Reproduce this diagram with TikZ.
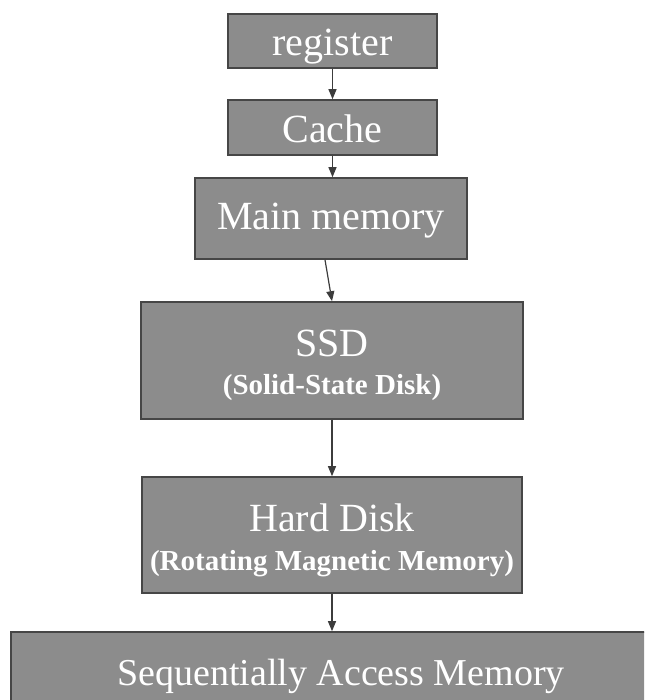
\documentclass[tikz,border=0pt]{standalone}
\usepackage{fontspec}
\setmainfont{Liberation Serif}
\usetikzlibrary{arrows.meta}
\definecolor{boxfill}{RGB}{140,140,140}
\definecolor{boxline}{RGB}{70,70,70}
\definecolor{arrowc}{RGB}{60,60,60}
\tikzset{
  membox/.style={draw=boxline, fill=boxfill, line width=1.6pt, inner sep=0pt},
  bigtxt/.style={font=\fontsize{40}{44}\selectfont, text=white, anchor=base, inner sep=0pt},
  subtxt/.style={font=\fontsize{29}{32}\selectfont\bfseries, text=white, anchor=base, inner sep=0pt},
  link/.style={draw=arrowc, line width=1.2pt, -{Triangle[length=10pt,width=8pt]}}
}
\begin{document}
\begin{tikzpicture}[x=1pt,y=1pt]
\useasboundingbox (0,0) rectangle (644,700);
\begin{scope}
\clip (0,0) rectangle (644,700);
% boxes
\node[membox, minimum width=209pt, minimum height=54pt] (reg) at (332.5,659) {};
\node[membox, minimum width=209pt, minimum height=55pt] (cache) at (332.5,572.5) {};
\node[membox, minimum width=272pt, minimum height=81pt] (main) at (331,481.5) {};
\node[membox, minimum width=382pt, minimum height=117pt] (ssd) at (332,339.5) {};
\node[membox, minimum width=380pt, minimum height=116pt] (hd) at (332,165) {};
\node[membox, minimum width=649pt, minimum height=88pt] (seq) at (335.5,24) {};
% texts
\node[bigtxt] (tReg) at (332.5,644) {register};
\node[bigtxt] (tCache) at (332.5,557) {Cache};
\node[bigtxt] (tMain) at (331,470) {Main memory};
\node[bigtxt] (tSsd) at (332,343) {SSD};
\node[subtxt] (tSsdSub) at (332,305) {(Solid-State Disk)};
\node[bigtxt] (tHd) at (332,168) {Hard Disk};
\node[subtxt] (tHdSub) at (332,129) {(Rotating Magnetic Memory)};
\node[bigtxt, font=\fontsize{38}{42}\selectfont] (tSeq) at (341,14) {Sequentially Access Memory};
% connectors
\draw[link] (reg.south) -- (cache.north);
\draw[link] (cache.south) -- (cache.south |- main.north);
\draw[link] ([xshift=-6pt]main.south) -- (ssd.north);
\draw[link] (ssd.south) -- (hd.north);
\draw[link] (hd.south) -- (hd.south |- seq.north);
\end{scope}
\end{tikzpicture}
\end{document}
